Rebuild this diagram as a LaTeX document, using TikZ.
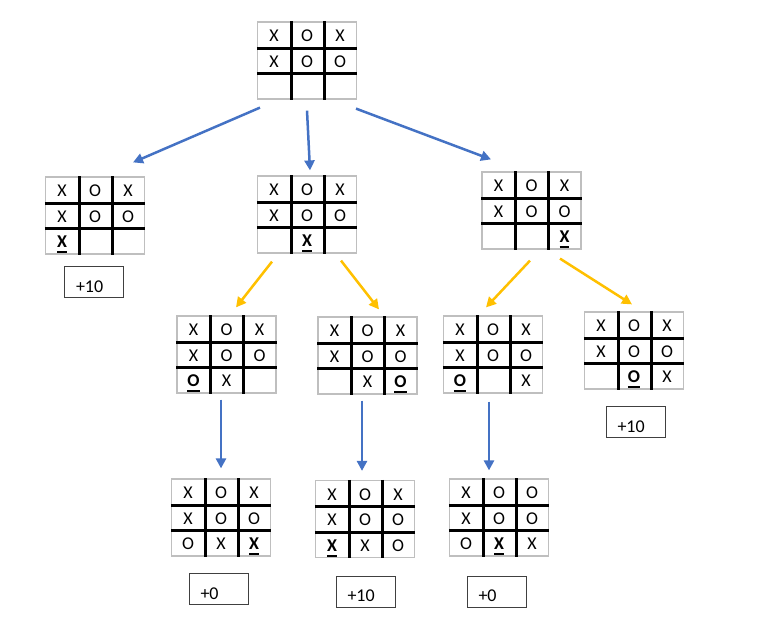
\documentclass[tikz,border=0pt]{standalone}
\usepackage{fontspec}
\setmainfont{Carlito}
\usetikzlibrary{matrix,arrows.meta}

\definecolor{boardgrey}{HTML}{BFBFBF}
\definecolor{treeblue}{HTML}{4472C4}
\definecolor{treegold}{HTML}{FFC000}

% bold, underlined symbol for the move just played
\newcommand\lastmove[1]{\setbox0\hbox{\bfseries #1}\rlap{\rule[-5.5pt]{\wd0}{2pt}}\box0}

% thick inner lines of a 3x3 board
\newcommand\gridlines[1]{%
  \draw[gridline] (#1-1-1.north east) -- (#1-3-1.south east);
  \draw[gridline] (#1-1-2.north east) -- (#1-3-2.south east);
  \draw[gridline] (#1-1-1.south west) -- (#1-1-3.south east);
  \draw[gridline] (#1-2-1.south west) -- (#1-2-3.south east);}

\tikzset{
  board/.style={matrix of nodes, nodes in empty cells, draw=boardgrey,
    line width=1.2pt, inner sep=0pt, column sep=0pt, row sep=0pt, fill=white,
    nodes={draw=none, minimum width=33pt, minimum height=25.67pt, inner sep=0pt,
      text height=16.5pt, text depth=3pt, anchor=center}},
  gridline/.style={line width=3pt, black},
  scorebox/.style={draw=black!75, line width=1pt, minimum height=31pt,
    text width=36pt, inner xsep=11.5pt, align=left, text height=20pt, text depth=0pt},
  bluearrow/.style={treeblue, line width=2.5pt, -{Triangle[length=10pt,width=10pt]}},
  goldarrow/.style={treegold, line width=2.5pt, -{Triangle[length=10pt,width=10pt]}},
}

\begin{document}
\begin{tikzpicture}[x=1pt, y=-1pt, font=\fontsize{18}{21}\selectfont]
\useasboundingbox (0,0) rectangle (765,641);

% root position
\matrix[board] (A) at (307,60.5) { X & O & X \\ X & O & O \\ & & \\ };

% X to move
\matrix[board] (B1) at (95,215.5) { X & O & X \\ X & O & O \\ \lastmove{X} & & \\ };
\matrix[board] (B2) at (307,214.5) { X & O & X \\ X & O & O \\ & \lastmove{X} & \\ };
\matrix[board] (B3) at (531.5,210.5) { X & O & X \\ X & O & O \\ & & \lastmove{X} \\ };

% O to move
\matrix[board] (C1) at (226.5,354.5) { X & O & X \\ X & O & O \\ \lastmove{O} & X & \\ };
\matrix[board] (C2) at (367.5,355.5) { X & O & X \\ X & O & O \\ & X & \lastmove{O} \\ };
\matrix[board] (C3) at (493,354.5) { X & O & X \\ X & O & O \\ \lastmove{O} & & X \\ };
\matrix[board] (C4) at (634,350.5) { X & O & X \\ X & O & O \\ & \lastmove{O} & X \\ };

% final X moves
\matrix[board] (D1) at (221,517.5) { X & O & X \\ X & O & O \\ O & X & \lastmove{X} \\ };
\matrix[board] (D2) at (365,519) { X & O & X \\ X & O & O \\ \lastmove{X} & X & O \\ };
\matrix[board] (D3) at (499,517.5) { X & O & O \\ X & O & O \\ O & \lastmove{X} & X \\ };

\foreach \b in {A,B1,B2,B3,C1,C2,C3,C4,D1,D2,D3} {\gridlines{\b}}

% scores
\node[scorebox] (sB1) at (94,282) {+10};
\node[scorebox] (sC4) at (635.5,422) {+10};
\node[scorebox] (sD1) at (218.5,589) {+0};
\node[scorebox] (sD2) at (365.5,591.5) {+10};
\node[scorebox] (sD3) at (496.5,591.5) {+0};

% moves of X
\draw[bluearrow] ([shift={(-47,8)}]A.south) -- ([shift={(38,-14)}]B1.north);
\draw[bluearrow] ([shift={(0,11)}]A.south) -- ([shift={(3,-5)}]B2.north);
\draw[bluearrow] ([shift={(49,9)}]A.south) -- ([shift={(-40.5,-12)}]B3.north);

% moves of O
\draw[goldarrow] ([shift={(-35,8)}]B2.south) -- ([shift={(9.5,-8)}]C1.north);
\draw[goldarrow] ([shift={(34,7)}]B2.south) -- ([shift={(11.5,-7)}]C2.north);
\draw[goldarrow] ([shift={(-1.5,11)}]B3.south) -- ([shift={(-7,-8)}]C3.north);
\draw[goldarrow] ([shift={(28.5,9)}]B3.south) -- ([shift={(-2,-7)}]C4.north);

% last moves of X
\draw[bluearrow] ([shift={(-5.5,6)}]C1.south) -- ([shift={(0,-10)}]D1.north);
\draw[bluearrow] ([shift={(-5.5,6)}]C2.south) -- ([shift={(-3,-9)}]D2.north);
\draw[bluearrow] ([shift={(-4,8)}]C3.south) -- ([shift={(-10,-8)}]D3.north);
\end{tikzpicture}
\end{document}
